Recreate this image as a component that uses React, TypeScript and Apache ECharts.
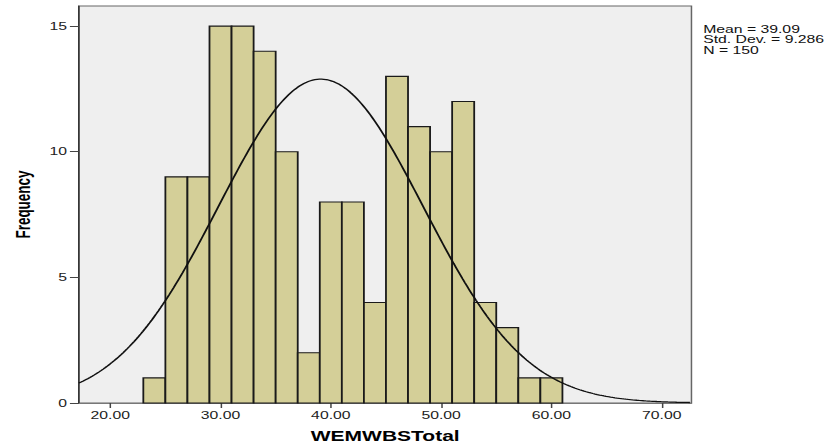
import React, { useEffect, useRef } from "react";
import * as echarts from "echarts";

// Histogram bins (lower edges) and frequencies
const binStarts = [23, 25, 27, 29, 31, 33, 35, 37, 39, 41, 43, 45, 47, 49, 51, 53, 55, 57, 59];
const counts = [1, 9, 9, 15, 15, 14, 10, 2, 8, 8, 4, 13, 11, 10, 12, 4, 3, 1, 1];
const binWidth = 2;

// Summary statistics shown in the legend box
const mean = 39.09;
const stdDev = 9.286;
const nTotal = 150;

const xTickValues = [20, 30, 40, 50, 60, 70];
const yTickValues = [0, 5, 10, 15];

const X_MIN = 17.16;
const X_MAX = 72.7;
const Y_MAX = 15.8;

const INNER_W = 551;
const H = 448;

export default function App() {
  const ref = useRef<HTMLDivElement | null>(null);

  useEffect(() => {
    document.body.style.margin = "0";
    if (!ref.current) return;
    const chart = echarts.init(ref.current, undefined, { renderer: "svg" });

    const barData = binStarts.map((s, i) => [s, s + binWidth, counts[i]]);

    // fitted normal curve from stated mean / sd / N
    const peak = (nTotal * binWidth) / (stdDev * Math.sqrt(2 * Math.PI));
    const curve: number[][] = [];
    for (let x = X_MIN; x <= X_MAX + 1e-9; x += 0.2) {
      const z = (x - mean) / stdDev;
      curve.push([x, peak * Math.exp(-0.5 * z * z)]);
    }

    const font = "'Liberation Sans', Arial, sans-serif";

    chart.setOption({
      animation: false,
      backgroundColor: "#ffffff",
      grid: {
        left: 50,
        right: INNER_W - 460.7,
        top: 6,
        bottom: 45,
        show: true,
        backgroundColor: "#efefef",
        borderColor: "#666",
        borderWidth: 1,
      },
      xAxis: {
        type: "value",
        min: X_MIN,
        max: X_MAX,
        name: "WEMWBSTotal",
        nameLocation: "middle",
        nameGap: 26,
        nameTextStyle: { fontFamily: font, fontWeight: "bold", fontSize: 14, color: "#000" },
        axisLine: { show: true, lineStyle: { color: "#777", width: 1 } },
        axisTick: { show: true, length: 5, customValues: xTickValues, lineStyle: { color: "#444" } },
        axisLabel: {
          customValues: xTickValues,
          formatter: (v: number) => v.toFixed(2),
          fontFamily: font,
          fontSize: 10.5,
          color: "#222",
          margin: 7,
        },
        splitLine: { show: false },
      },
      yAxis: {
        type: "value",
        min: 0,
        max: Y_MAX,
        name: "Frequency",
        nameLocation: "middle",
        nameGap: 30,
        nameRotate: 90,
        nameTextStyle: { fontFamily: font, fontWeight: "bold", fontSize: 13.5, color: "#000" },
        axisLine: { show: true, lineStyle: { color: "#333", width: 1 } },
        axisTick: { show: true, length: 6, customValues: yTickValues, lineStyle: { color: "#444" } },
        axisLabel: {
          customValues: yTickValues,
          fontFamily: font,
          fontSize: 10.5,
          color: "#222",
          margin: 8,
        },
        splitLine: { show: false },
      },
      series: [
        {
          type: "custom",
          data: barData,
          encode: { x: [0, 1], y: 2 },
          renderItem: (params: any, api: any) => {
            const x0 = api.value(0);
            const x1 = api.value(1);
            const y = api.value(2);
            const p0 = api.coord([x0, y]);
            const p1 = api.coord([x1, 0]);
            return {
              type: "rect",
              shape: { x: p0[0], y: p0[1], width: p1[0] - p0[0], height: p1[1] - p0[1] },
              style: { fill: "#d4cf98", stroke: "#1a1a1a", lineWidth: 1.2 },
            };
          },
        },
        {
          type: "line",
          data: curve,
          showSymbol: false,
          symbol: "none",
          smooth: false,
          lineStyle: { color: "#111", width: 1.3 },
        },
      ],
      graphic: [
        {
          type: "text",
          left: 468.5,
          top: 24,
          style: {
            text: `Mean = ${mean.toFixed(2)}\nStd. Dev. = ${stdDev.toFixed(3)}\nN = ${nTotal}`,
            font: `10.5px ${font}`,
            lineHeight: 10.3,
            fill: "#111",
          },
        },
      ],
    });

    return () => chart.dispose();
  }, []);

  return (
    <div
      ref={ref}
      style={{
        position: "fixed",
        left: 0,
        top: 0,
        width: INNER_W,
        height: H,
        transform: `scaleX(${827 / INNER_W})`,
        transformOrigin: "0 0",
      }}
    />
  );
}
